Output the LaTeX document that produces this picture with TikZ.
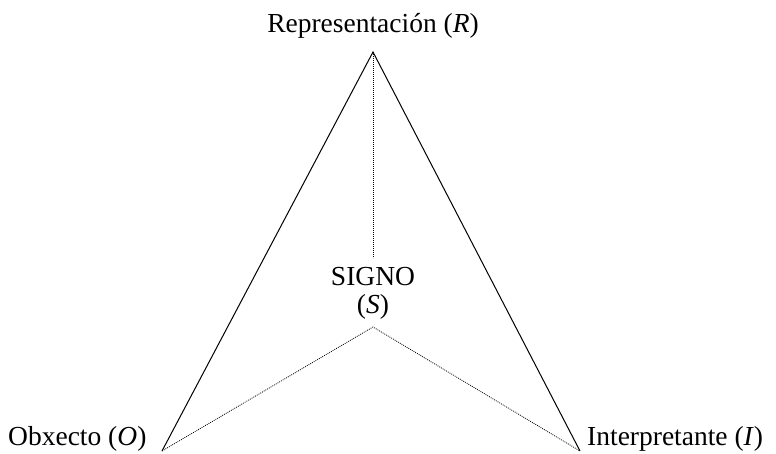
\documentclass[tikz,border=0pt]{standalone}
\usepackage{fontspec}
\setmainfont{Liberation Serif}
\begin{document}
\begin{tikzpicture}[x=1pt,y=-1pt,
  lbl/.style={inner sep=0pt,font=\fontsize{27.5}{30}\selectfont},
  solidline/.style={line width=1pt},
  dotline/.style={line width=0.8pt,dash pattern=on 0.9pt off 1.1pt}]
\useasboundingbox (0,0) rectangle (776,453);
\coordinate (R) at (373,52);
\coordinate (O) at (162,451);
\coordinate (I) at (580,451);
\coordinate (S) at (373,327);
\coordinate (T) at (373,258);
\node[lbl,anchor=base] (rl) at (373,32) {Representación (\textit{R})};
\node[lbl,anchor=base west] (ol) at (8,445) {Obxecto (\textit{O})};
\node[lbl,anchor=base west] (il) at (587,445) {Interpretante (\textit{I})};
\node[lbl,anchor=base] (sg) at (373,285) {SIGNO};
\node[lbl,anchor=base] (ss) at (373,313) {(\textit{S})};
\draw[solidline] (O) -- (R) -- (I);
\draw[dotline] (R) -- (T);
\draw[dotline] (O) -- (S) -- (I);
\end{tikzpicture}
\end{document}
